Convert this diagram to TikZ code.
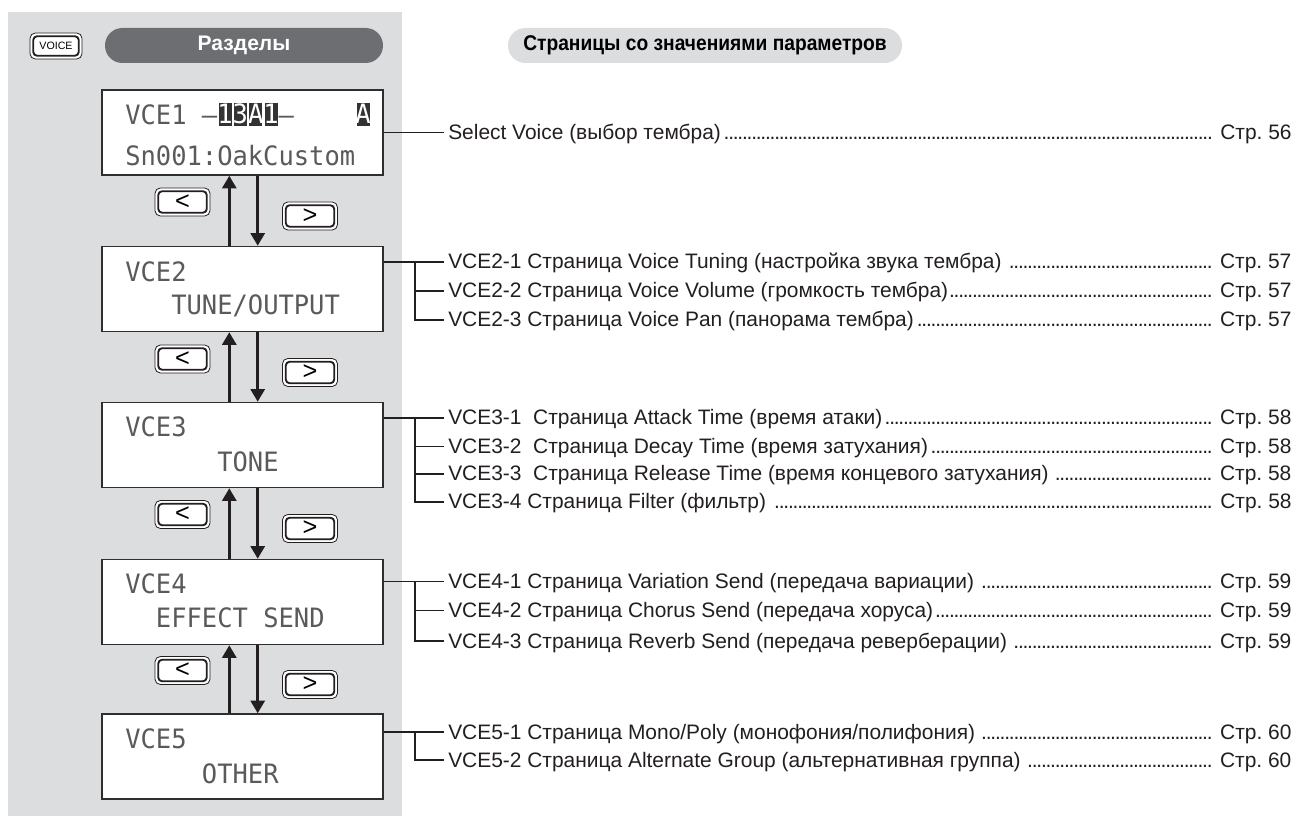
\documentclass[tikz,border=0pt]{standalone}
\usepackage{fontspec}
\setmainfont{Liberation Sans}
\newfontfamily\lcdfont[FakeStretch=0.955]{DejaVu Sans Mono}
\newfontfamily\hdrfont[FakeStretch=0.9]{Liberation Sans}
\newfontfamily\hdrwide{Liberation Sans}
\usetikzlibrary{arrows.meta,calc}
\definecolor{panel}{HTML}{DCDDDF}
\definecolor{pillc}{HTML}{6D6E71}
\definecolor{ink}{HTML}{231F20}
\definecolor{boxc}{HTML}{2E2E2E}
\definecolor{lcdc}{HTML}{5A5A5A}
\definecolor{lcdinv}{HTML}{333333}
\newcommand{\dotrow}[3]{\makebox[#1][l]{#2\leaders\hbox to 3.45pt{\hss.\hss}\hfill\ Стр.~#3}}
\begin{document}
\begin{tikzpicture}[x=0.75pt,y=-0.75pt,
 lcdbox/.style={draw=boxc, line width=1.1pt, fill=white, minimum width=210.75pt, minimum height=63.75pt, inner sep=0pt},
 lcdtxt/.style={anchor=base west, inner sep=0pt, text=lcdc, font=\lcdfont\fontsize{20}{22}\selectfont},
 lcdinvtxt/.style={anchor=base, inner sep=0pt, text=white, font=\lcdfont\fontsize{20}{22}\selectfont},
 btn/.style={draw=ink, line width=0.6pt, fill=white, rounded corners=4pt, minimum width=41.25pt, minimum height=21pt, inner sep=0pt, font=\fontsize{19}{19}\selectfont,
   path picture={\draw[ink, line width=1.4pt, rounded corners=3pt] ([shift={(2.4pt,-2.4pt)}]path picture bounding box.north west) rectangle ([shift={(-2.4pt,2.4pt)}]path picture bounding box.south east);}},
 arr/.style={draw=ink, line width=2.2pt, -{Triangle[width=10.5pt,length=9.5pt]}},
 conn/.style={draw=ink, line width=0.95pt},
 row/.style={anchor=west, inner xsep=3pt, inner ysep=0pt, text height=10.5pt, text depth=0pt, text=ink, font=\fontsize{15.7}{18}\selectfont},
 pill/.style={rounded corners=13pt, minimum width=#1, minimum height=26.25pt, inner sep=0pt},
]
\useasboundingbox (0,0) rectangle (1297,816);
\fill[white] (0,0) rectangle (1297,816);
\fill[panel] (8,12) rectangle (402,816);

% headers
\node[btn, minimum width=39pt, minimum height=19.5pt, font=\fontsize{8}{8}\selectfont] (voice) at (56,46) {VOICE};
\node[pill=208.5pt, fill=pillc, text=white, font=\hdrwide\bfseries\fontsize{15.8}{17}\selectfont] (hleft) at (244,45.5) {Разделы};
\node[pill=295.5pt, fill=panel, text=black, font=\hdrfont\bfseries\fontsize{16}{17}\selectfont] (hright) at (705,45.5) {Страницы со значениями параметров};

% LCD boxes
\node[lcdbox] (v1) at (242.5,132.5) {};
\node[lcdbox] (v2) at (242.5,289) {};
\node[lcdbox] (v3) at (242.5,445) {};
\node[lcdbox] (v4) at (242.5,602) {};
\node[lcdbox] (v5) at (242.5,756.5) {};

% LCD texts
\node[lcdtxt] (l1a) at (125,124.5) {VCE1};
\node[lcdtxt] (l1b) at (201.7,124.5) {–};
\node[lcdtxt] (l1c) at (278.4,124.5) {–};
\foreach \i/\c/\n in {217.0/1/i1, 232.4/3/i2, 247.7/A/i3, 263.1/1/i4, 355.1/A/i5}{
  \fill[lcdinv] (\i+1.5,103) rectangle (\i+14.5,126);
  \node[lcdinvtxt] (\n) at (\i+8,123.5) {\c};
}
\node[lcdtxt] (l1d) at (125,166) {Sn001:OakCustom};
\node[lcdtxt] (l2a) at (125,281.5) {VCE2};
\node[lcdtxt] (l2b) at (171.0,314.5) {TUNE/OUTPUT};
\node[lcdtxt] (l3a) at (125,437) {VCE3};
\node[lcdtxt] (l3b) at (217.0,471.5) {TONE};
\node[lcdtxt] (l4a) at (125,593.5) {VCE4};
\node[lcdtxt] (l4b) at (155.7,628) {EFFECT SEND};
\node[lcdtxt] (l5a) at (125,748) {VCE5};
\node[lcdtxt] (l5b) at (201.7,783) {OTHER};

% buttons
\node[btn] (bl1) at (182.5,202) {<};
\node[btn] (br1) at (310,216) {>};
\node[btn] (bl2) at (182.5,359) {<};
\node[btn] (br2) at (310,372.5) {>};
\node[btn] (bl3) at (182.5,514.5) {<};
\node[btn] (br3) at (310,528.5) {>};
\node[btn] (bl4) at (182.5,670.5) {<};
\node[btn] (br4) at (310,684.5) {>};

% arrows
\coordinate (ux) at (229.3,0);
\coordinate (dx) at (257.7,0);
\foreach \a/\b in {v1/v2, v2/v3, v3/v4, v4/v5}{
  \draw[arr] (\b.north -| ux) -- (\a.south -| ux);
  \draw[arr] (\a.south -| dx) -- (\b.north -| dx);
}

% rows
\node[row] (r1) at (444,132.5) {\dotrow{632.25pt}{Select Voice (выбор тембра)}{56}};
\node[row] (r21) at (444,262) {\dotrow{632.25pt}{VCE2-1 Страница Voice Tuning (настройка звука тембра) }{57}};
\node[row] (r22) at (444,291) {\dotrow{632.25pt}{VCE2-2 Страница Voice Volume (громкость тембра)}{57}};
\node[row] (r23) at (444,320) {\dotrow{632.25pt}{VCE2-3 Страница Voice Pan (панорама тембра)}{57}};
\node[row] (r31) at (444,418) {\dotrow{632.25pt}{VCE3-1\ \ Страница Attack Time (время атаки)}{58}};
\node[row] (r32) at (444,446.5) {\dotrow{632.25pt}{VCE3-2\ \ Страница Decay Time (время затухания)}{58}};
\node[row] (r33) at (444,474) {\dotrow{632.25pt}{VCE3-3\ \ Страница Release Time (время концевого затухания) }{58}};
\node[row] (r34) at (444,502) {\dotrow{632.25pt}{VCE3-4 Страница Filter (фильтр) }{58}};
\node[row] (r41) at (444,581.7) {\dotrow{632.25pt}{VCE4-1 Страница Variation Send (передача вариации) }{59}};
\node[row] (r42) at (444,610.5) {\dotrow{632.25pt}{VCE4-2 Страница Chorus Send (передача хоруса)}{59}};
\node[row] (r43) at (444,641) {\dotrow{632.25pt}{VCE4-3 Страница Reverb Send (передача реверберации) }{59}};
\node[row] (r51) at (444,732) {\dotrow{632.25pt}{VCE5-1 Страница Mono/Poly (монофония/полифония) }{60}};
\node[row] (r52) at (444,760) {\dotrow{632.25pt}{VCE5-2 Страница Alternate Group (альтернативная группа) }{60}};

% connectors
\coordinate (jx) at (415,0);
\draw[conn] (v1.east) -- (r1.west);
\draw[conn] (v2.east |- r21.west) -- (r21.west);
\draw[conn] (jx |- r21.west) |- (r23.west);
\draw[conn] (jx |- r22.west) -- (r22.west);
\draw[conn] (v3.east |- r31.west) -- (r31.west);
\draw[conn] (jx |- r31.west) |- (r34.west);
\draw[conn] (jx |- r32.west) -- (r32.west);
\draw[conn] (jx |- r33.west) -- (r33.west);
\draw[conn] (v4.east |- r41.west) -- (r41.west);
\draw[conn] (jx |- r41.west) |- (r43.west);
\draw[conn] (jx |- r42.west) -- (r42.west);
\draw[conn] (v5.east |- r51.west) -- (r51.west);
\draw[conn] (jx |- r51.west) |- (r52.west);
\end{tikzpicture}
\end{document}
